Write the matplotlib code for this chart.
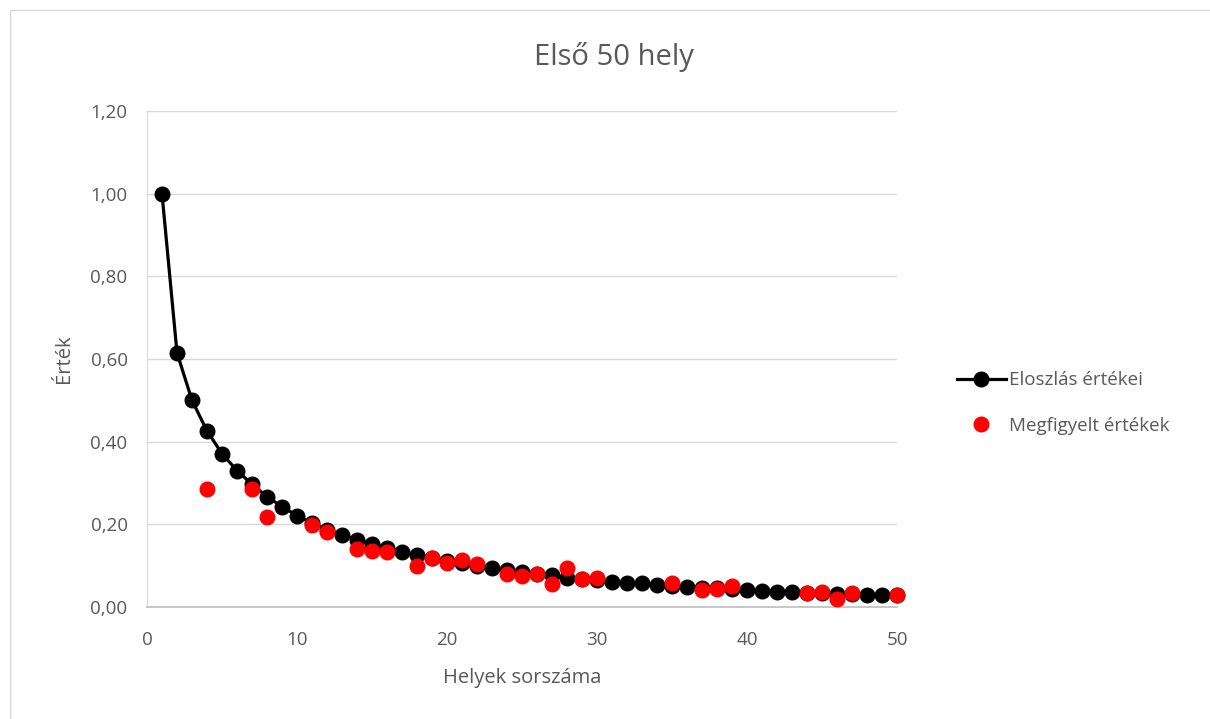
import numpy as np
import matplotlib
matplotlib.use("Agg")
import matplotlib.pyplot as plt
from matplotlib.patches import Rectangle
from matplotlib.lines import Line2D

plt.rcParams['font.family'] = ['Open Sans', 'DejaVu Sans']

title = "Első 50 hely"
x_label = "Helyek sorszáma"
y_label = "Érték"
series_dist = "Eloszlás értékei"
series_obs = "Megfigyelt értékek"

positions = list(range(1, 51))

# Theoretical distribution values for ranks 1..50
dist_values = [
    1.000, 0.615, 0.500, 0.426, 0.371, 0.330, 0.297, 0.267, 0.243, 0.221,
    0.203, 0.187, 0.174, 0.163, 0.153, 0.143, 0.134, 0.126, 0.119, 0.112,
    0.106, 0.100, 0.094, 0.089, 0.085, 0.080, 0.077, 0.071, 0.068, 0.065,
    0.061, 0.059, 0.057, 0.054, 0.052, 0.049, 0.047, 0.045, 0.043, 0.040,
    0.039, 0.037, 0.036, 0.035, 0.034, 0.032, 0.031, 0.030, 0.029, 0.028,
]

# Observed values (ranks without an observation are left out)
obs_positions = [4, 7, 8, 11, 12, 14, 15, 16, 18, 19, 20, 21, 22, 24, 25,
                 26, 27, 28, 29, 30, 35, 37, 38, 39, 44, 45, 46, 47, 50]
obs_values = [0.286, 0.285, 0.218, 0.199, 0.181, 0.140, 0.136, 0.134, 0.100,
              0.118, 0.106, 0.114, 0.103, 0.080, 0.076, 0.080, 0.056, 0.094,
              0.068, 0.069, 0.059, 0.040, 0.043, 0.051, 0.035, 0.037, 0.019,
              0.033, 0.029]

y_ticks = [0.0, 0.2, 0.4, 0.6, 0.8, 1.0, 1.2]
y_tick_labels = ["0,00", "0,20", "0,40", "0,60", "0,80", "1,00", "1,20"]
x_ticks = [0, 10, 20, 30, 40, 50]

text_color = "#595959"

fig = plt.figure(figsize=(12.10, 7.19), dpi=100)
fig.patches.append(Rectangle((10 / 1210, -0.01), 1.0, 1 - 10 / 719 + 0.01,
                             transform=fig.transFigure, fill=False,
                             edgecolor="#d9d9d9", linewidth=1.0))

ax = fig.add_axes([147 / 1210, 1 - 607 / 719, 750 / 1210, 496 / 719])

ax.plot(positions, dist_values, color="black", linewidth=2.3, marker="o",
        markersize=10.5, zorder=3, clip_on=False)
ax.plot(obs_positions, obs_values, linestyle="none", marker="o",
        color="#ff0000", markersize=10.5, zorder=4, clip_on=False)

ax.set_xlim(0, 50)
ax.set_ylim(0, 1.2)
ax.set_yticks(y_ticks)
ax.set_yticklabels(y_tick_labels)
ax.set_xticks(x_ticks)
ax.tick_params(length=0, labelsize=13.5, labelcolor=text_color)
ax.tick_params(axis="x", pad=17)
ax.tick_params(axis="y", pad=14)
ax.grid(axis="y", color="#d9d9d9", linewidth=1.0)
ax.set_axisbelow(True)
for side in ("top", "right"):
    ax.spines[side].set_visible(False)
ax.spines["left"].set_color("#d9d9d9")
ax.spines["bottom"].set_color("#bfbfbf")
ax.spines["bottom"].set_linewidth(1.2)

ax.set_xlabel(x_label, fontsize=14.5, color=text_color, labelpad=14)
ax.set_ylabel(y_label, fontsize=14.5, color=text_color, labelpad=12)
fig.text(614 / 1210, 1 - 57 / 719, title, ha="center", va="center",
         fontsize=21, color=text_color)

handles = [
    Line2D([], [], color="black", linewidth=2.3, marker="o", markersize=10.5),
    Line2D([], [], color="#ff0000", linestyle="none", marker="o", markersize=10.5),
]
fig.legend(handles, [series_dist, series_obs], loc="center left",
           bbox_to_anchor=(940 / 1210, 1 - 403 / 719), frameon=False,
           fontsize=13.5, labelcolor=text_color, handlelength=2.6,
           handletextpad=0.2, labelspacing=1.45)

fig.savefig("out.png", dpi=100)
